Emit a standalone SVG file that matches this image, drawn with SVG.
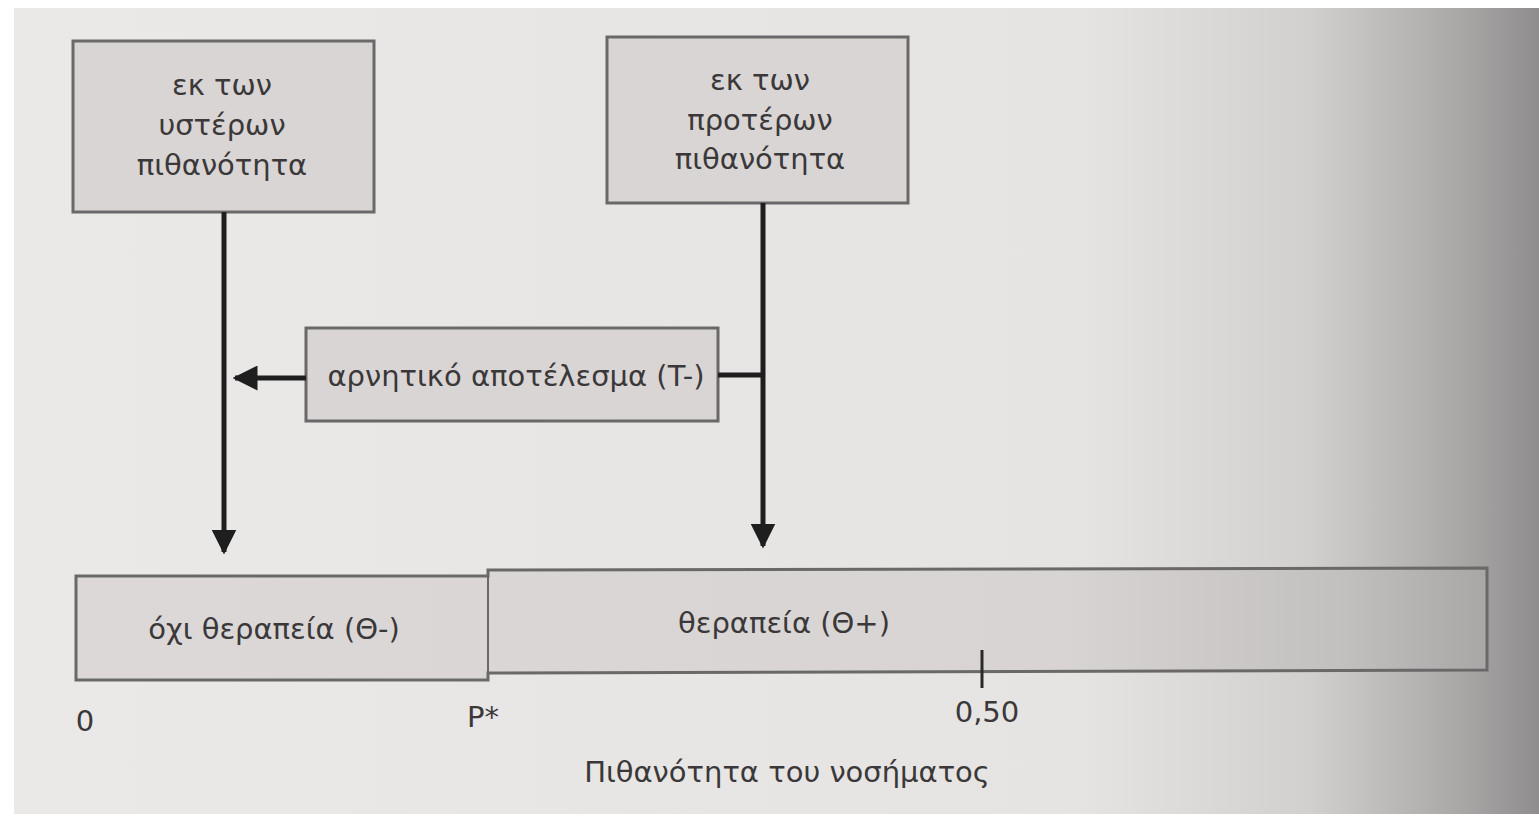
<svg xmlns="http://www.w3.org/2000/svg" width="1539" height="821" viewBox="0 0 1539 821">
<defs>
<linearGradient id="page" x1="0" y1="0" x2="1" y2="0">
<stop offset="0" stop-color="#ebe8e8"/>
<stop offset="0.7" stop-color="#e6e3e3"/>
<stop offset="0.85" stop-color="#d2cfcf"/>
<stop offset="0.95" stop-color="#a9a6a6"/>
<stop offset="1" stop-color="#8f8d8d"/>
</linearGradient>
<linearGradient id="bar" x1="0" y1="0" x2="1" y2="0">
<stop offset="0" stop-color="#dcd8d8"/>
<stop offset="0.7" stop-color="#d8d4d4"/>
<stop offset="0.9" stop-color="#c2bfbf"/>
<stop offset="1" stop-color="#a9a6a6"/>
</linearGradient>
<marker id="ah" viewBox="0 0 10 10" refX="9" refY="5" markerWidth="5" markerHeight="5" orient="auto" markerUnits="strokeWidth">
<path d="M0,0 L10,5 L0,10 z" fill="#1e1e1e"/>
</marker>
<style>
.box{fill:#d9d5d5;stroke:#6a6868;stroke-width:3}
.t{font-family:"DejaVu Sans","Noto Sans",sans-serif;font-size:29px;fill:#3a3838;text-anchor:middle}
.ln{stroke:#1e1e1e;stroke-width:5;fill:none}
</style>
</defs>
<rect width="1539" height="821" fill="#ffffff"/>
<rect x="14" y="8" width="1525" height="806" fill="url(#page)"/>
<g id="posterior">
<rect class="box" x="73" y="41" width="301" height="171"/>
<text class="t" x="222" y="95">εκ των</text>
<text class="t" x="222" y="135">υστέρων</text>
<text class="t" x="222" y="175">πιθανότητα</text>
</g>
<g id="prior">
<rect class="box" x="607" y="37" width="301" height="166"/>
<text class="t" x="760" y="90">εκ των</text>
<text class="t" x="760" y="130">προτέρων</text>
<text class="t" x="760" y="169">πιθανότητα</text>
</g>
<g id="negative">
<rect class="box" x="306" y="328" width="412" height="93"/>
<text class="t" x="516" y="386">αρνητικό αποτέλεσμα (T-)</text>
</g>
<g id="connectors">
<line class="ln" x1="224" y1="212" x2="224" y2="552" marker-end="url(#ah)"/>
<line class="ln" x1="763" y1="203" x2="763" y2="546" marker-end="url(#ah)"/>
<line class="ln" x1="765" y1="375" x2="718" y2="375"/>
<line class="ln" x1="306" y1="378" x2="235" y2="378" marker-end="url(#ah)"/>
</g>
<g id="axis">
<path d="M76,576 L488,576 L488,570 L1487,568 L1487,670 L488,673 L488,680 L76,680 Z" fill="url(#bar)" stroke="#6a6868" stroke-width="3"/>
<line x1="488" y1="573" x2="488" y2="677" stroke="#6a6868" stroke-width="2"/>
<text class="t" x="274" y="639">όχι θεραπεία (Θ-)</text>
<text class="t" x="784" y="633">θεραπεία (Θ+)</text>
<line x1="982" y1="650" x2="982" y2="688" stroke="#2a2828" stroke-width="3"/>
<text class="t" x="85" y="731">0</text>
<text class="t" x="483" y="727">P*</text>
<text class="t" x="987" y="722">0,50</text>
<text class="t" x="787" y="782">Πιθανότητα του νοσήματος</text>
</g>
</svg>
